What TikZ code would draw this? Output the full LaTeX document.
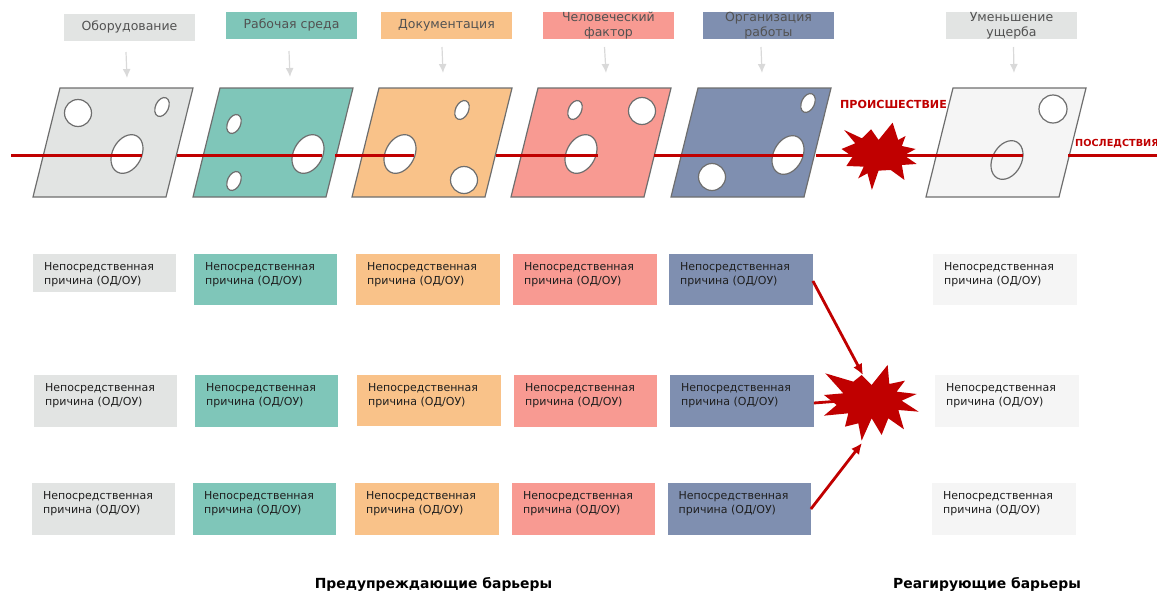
\documentclass[tikz,border=0pt]{standalone}
\usepackage{fontspec}
\setmainfont{DejaVu Sans}
\usetikzlibrary{arrows.meta,calc}
\definecolor{cgray}{HTML}{E2E4E3}
\definecolor{cteal}{HTML}{7FC6B9}
\definecolor{corange}{HTML}{F9C289}
\definecolor{csalmon}{HTML}{F89A92}
\definecolor{cblue}{HTML}{7F8FB0}
\definecolor{clight}{HTML}{F5F5F5}
\definecolor{cred}{HTML}{C00000}
\definecolor{carrow}{HTML}{D9D9D9}
\definecolor{cedge}{HTML}{6E6E6E}
\tikzset{
  x=1pt,y=-1pt,
  box/.style={draw=none,inner sep=0pt,anchor=north west,minimum width=#1},
  box/.default=143,
  ttl/.style={text=black!68,font=\fontsize{12.5}{15}\selectfont,align=center,inner sep=0pt},
  ctext/.style={font=\fontsize{11}{14}\selectfont,text=black!88,align=left,anchor=north west,inner sep=0pt},
  slab/.style={draw=cedge,line width=1.2pt,line join=miter},
  hole/.style={draw=cedge,fill=white,line width=1.2pt},
  redline/.style={draw=cred,line width=3pt},
  redarrow/.style={draw=cred,line width=2.8pt,-{Latex[length=11pt,width=10pt]}},
  grayarrow/.style={draw=carrow,line width=1.2pt,-{Latex[length=9pt,width=8pt]}},
  burst/.style={fill=cred,draw=none},
  redtext/.style={text=cred,font=\bfseries\fontsize{#1}{12}\selectfont,inner sep=0pt},
  head/.style={text=black,font=\bfseries\fontsize{13.9}{15}\selectfont,inner sep=0pt}
}
\newcommand{\cause}[6]{%
  \node[box=#4,minimum height=#5,fill=#6] (#1) at (#2,#3) {};
  \node[ctext] (#1t) at ($(#1.north west)+(11,8.5)$) {Непосредственная\\причина (ОД/ОУ)};
}
\newcommand{\topbox}[6]{%
  \node[box=131,minimum height=27,fill=#4] (#1) at (#2,#3) {};
  \node[ttl] (#1t) at (#5) {#6};
}
\newcommand{\sheet}[2]{%
  \draw[slab,fill=#2] (#1,88) -- ++(133,0) -- ++(-27,109) -- ++(-133,0) -- cycle;
}
\newcommand{\bighole}[2]{\draw[hole] (#1,#2) ellipse[x radius=14.5,y radius=20.5,rotate=-28];}
\newcommand{\smallhole}[2]{\draw[hole] (#1,#2) ellipse[x radius=6.5,y radius=10,rotate=-25];}
\newcommand{\roundhole}[2]{\draw[hole] (#1,#2) ellipse[x radius=13.5,y radius=13.5];}
\begin{document}
\begin{tikzpicture}
\useasboundingbox (0,0) rectangle (1157,592);
% title boxes
\topbox{t1}{64}{14}{cgray}{129.5,27}{Оборудование}
\topbox{t2}{226}{12}{cteal}{291.5,25}{Рабочая среда}
\topbox{t3}{381}{12}{corange}{446.5,25}{Документация}
\topbox{t4}{543}{12}{csalmon}{608.5,25.5}{Человеческий\\фактор}
\topbox{t5}{703}{12}{cblue}{768.5,25.5}{Организация\\работы}
\topbox{t6}{946}{12}{cgray}{1011.5,25.5}{Уменьшение\\ущерба}
% grey arrows
\coordinate (g1a) at (126,52); \coordinate (g1b) at (127,78);
\coordinate (g2a) at (289,51); \coordinate (g2b) at (290,77);
\coordinate (g3a) at (442,47); \coordinate (g3b) at (443,73);
\coordinate (g4a) at (604.5,47); \coordinate (g4b) at (606,73);
\coordinate (g5a) at (761,47); \coordinate (g5b) at (762,73);
\coordinate (g6a) at (1013.5,47); \coordinate (g6b) at (1014,73);
\foreach \i in {1,...,6} \draw[grayarrow] (g\i a) -- (g\i b);
% sheets
\sheet{60}{cgray}
\sheet{220}{cteal}
\sheet{379}{corange}
\sheet{538}{csalmon}
\sheet{698}{cblue}
\sheet{953}{clight}
% holes
\roundhole{78}{113}\smallhole{162}{107}\bighole{127}{154}
\smallhole{234}{124}\smallhole{234}{181}\bighole{308}{154}
\smallhole{462}{110}\roundhole{464}{180}\bighole{400}{154}
\smallhole{575}{110}\roundhole{642}{111}\bighole{581}{154}
\smallhole{808}{103}\roundhole{712}{177}\bighole{788}{155}
\draw[hole] (1053,109) ellipse[x radius=14,y radius=14];
\draw[hole,fill=clight] (1007,160) ellipse[x radius=14.5,y radius=20.5,rotate=-28];
% main red line
\coordinate (l1a) at (11,155); \coordinate (l1b) at (142,155);
\coordinate (l2a) at (177,155); \coordinate (l2b) at (322,155);
\coordinate (l3a) at (335,155); \coordinate (l3b) at (414,155);
\coordinate (l4a) at (496,155); \coordinate (l4b) at (598,155);
\coordinate (l5a) at (654,155); \coordinate (l5b) at (803,155);
\coordinate (l6a) at (816,155); \coordinate (l6b) at (1023,155);
\coordinate (l7a) at (1068,155); \coordinate (l7b) at (1157,155);
\foreach \i in {1,...,7} \draw[redline] (l\i a) -- (l\i b);
% upper burst
\begin{scope}[shift={(577,0)},xscale=0.37,yscale=0.3333]
\fill[burst] (853,368) -- (868,420) -- (888,408) -- (878,438) -- (915,447) -- (884,466) -- (918,492) -- (878,495) -- (885,540) -- (848,510) -- (815,512) -- (797,570) -- (785,520) -- (760,535) -- (775,500) -- (728,498) -- (745,470) -- (715,447) -- (752,430) -- (722,390) -- (770,415) -- (795,388) -- (815,420) -- cycle;
\end{scope}
% causes
\cause{a1}{33}{254}{143}{38}{cgray}
\cause{a2}{194}{254}{143}{51}{cteal}
\cause{a3}{356}{254}{144}{51}{corange}
\cause{a4}{513}{254}{144}{51}{csalmon}
\cause{a5}{669}{254}{143.5}{51}{cblue}
\cause{a6}{933}{254}{144}{51}{clight}
\cause{b1}{34}{375}{143}{52}{cgray}
\cause{b2}{195}{375}{143}{52}{cteal}
\cause{b3}{357}{375}{144}{51}{corange}
\cause{b4}{514}{375}{143}{52}{csalmon}
\cause{b5}{670}{375}{143.5}{52}{cblue}
\cause{b6}{935}{375}{143.5}{52}{clight}
\cause{c1}{32}{483}{143}{52}{cgray}
\cause{c2}{193}{483}{143}{52}{cteal}
\cause{c3}{355}{483}{144}{52}{corange}
\cause{c4}{512}{483}{143}{52}{csalmon}
\cause{c5}{667.5}{483}{143}{52}{cblue}
\cause{c6}{932}{483}{144}{52}{clight}
% arrows into the lower burst
\coordinate (s1) at (863,375);
\coordinate (s2) at (840,401);
\coordinate (s3) at (862,443);
\draw[redarrow] (a5.east |- 0,281) -- (s1);
\draw[draw=cred,line width=2.8pt] (b5.east |- 0,403) -- (s2);
\draw[redarrow] (c5.east |- 0,509) -- (s3);
% lower burst
\begin{scope}[shift={(640,250)},scale=0.3333]
\fill[burst] (665,375) -- (695,405) -- (743,345) -- (748,402) -- (795,392) -- (770,425) -- (830,432) -- (785,452) -- (836,485) -- (775,480) -- (792,538) -- (745,505) -- (725,555) -- (695,505) -- (665,572) -- (655,520) -- (615,530) -- (625,490) -- (552,497) -- (590,465) -- (552,435) -- (610,430) -- (556,370) -- (640,395) -- cycle;
\end{scope}
% labels
\node[redtext=11.1,anchor=west] (inc) at (840,104) {ПРОИСШЕСТВИЕ};
\node[redtext=9.7,anchor=west] (cons) at (1075,143.5) {ПОСЛЕДСТВИЯ};
\node[head] (h1) at (433.5,584) {Предупреждающие барьеры};
\node[head] (h2) at (987,584) {Реагирующие барьеры};
\end{tikzpicture}
\end{document}
